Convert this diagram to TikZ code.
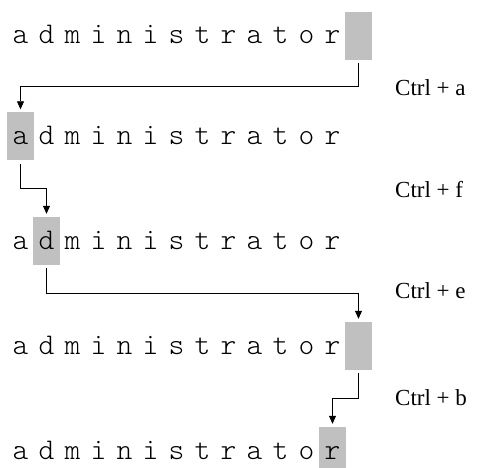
\documentclass[tikz,border=0pt]{standalone}
\usepackage{fontspec}
\newfontfamily\lblfont{Liberation Serif}
\newfontfamily\monofnt{Latin Modern Mono Light}
\usetikzlibrary{arrows.meta,calc}
\definecolor{curgray}{RGB}{192,192,192}
\begin{document}
\begin{tikzpicture}[x=1pt,y=-1pt,
  cur/.style={fill=curgray, draw=none, minimum width=27pt, minimum height=48pt, inner sep=0pt},
  ch/.style={font=\fontsize{30}{30}\selectfont\monofnt, inner sep=0pt, anchor=base},
  lbl/.style={font=\fontsize{23}{23}\selectfont\lblfont, inner sep=0pt, anchor=west},
  conn/.style={-{Triangle[length=8pt,width=7pt]}, line width=0.8pt}]
\useasboundingbox (0,0) rectangle (490,468);
% cursor boxes
\node[cur] (cur1) at (358.5,36) {};
\node[cur] (cur2) at (20.5,136.5) {};
\node[cur] (cur3) at (46.5,241) {};
\node[cur] (cur4) at (358.5,346) {};
\node[cur] (cur5) at (332.5,451) {};
% text rows
\foreach \r/\y in {1/36,2/136.5,3/241,4/346,5/451}{
  \foreach \c/\t in {0/a,1/d,2/m,3/i,4/n,5/i,6/s,7/t,8/r,9/a,10/t,11/o,12/r}{
    \node[ch] (r\r c\c) at (20.5+26*\c,\y+8) {\t};
  }
}
% connectors
\coordinate (m1) at ($(cur1.south)!0.5!(cur2.north)$);
\coordinate (m2) at ($(cur2.south)!0.5!(cur3.north)$);
\coordinate (m3) at ($(cur3.south)!0.5!(cur4.north)$);
\coordinate (m4) at ($(cur4.south)!0.5!(cur5.north)$);
\draw[conn] ([yshift=-3pt]cur1.south) |- (m1) -| ([yshift=3pt]cur2.north);
\draw[conn] ([yshift=-3pt]cur2.south) |- (m2) -| ([yshift=3pt]cur3.north);
\draw[conn] ([yshift=-3pt]cur3.south) |- (m3) -| ([yshift=3pt]cur4.north);
\draw[conn] ([yshift=-3pt]cur4.south) |- (m4) -| ([yshift=3pt]cur5.north);
% labels
\node[lbl] (k1) at (395,88) {Ctrl + a};
\node[lbl] (k2) at (395,190) {Ctrl + f};
\node[lbl] (k3) at (395,291) {Ctrl + e};
\node[lbl] (k4) at (395,398) {Ctrl + b};
\end{tikzpicture}
\end{document}
